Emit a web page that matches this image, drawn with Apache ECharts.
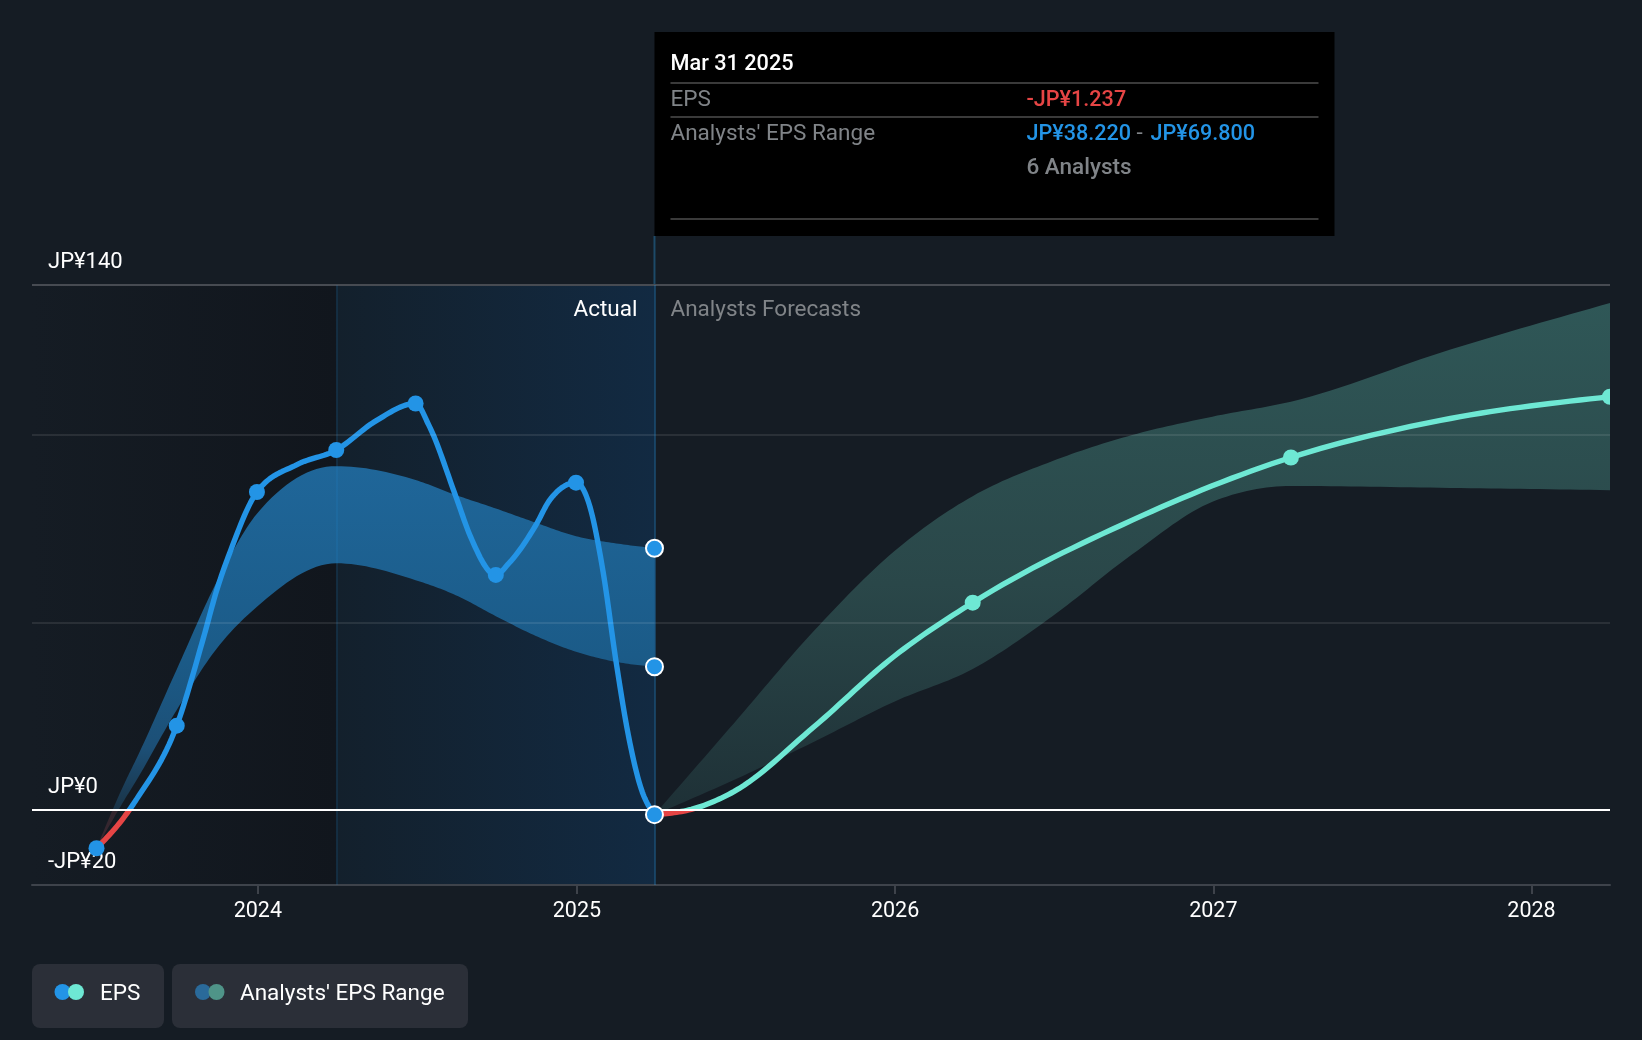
<!DOCTYPE html>
<html><head><meta charset="utf-8">
<style>html,body{margin:0;padding:0;background:#151c24}#c{width:1642px;height:1040px}</style>
<script src="https://cdn.jsdelivr.net/npm/echarts@6/dist/echarts.min.js"></script>
</head><body><div id="c"></div>
<script>
const axisStart='2023-04-17', axisEnd='2028-03-31';
const yearTicks=['2024-01-01','2025-01-01','2026-01-01','2027-01-01','2028-01-01'];
const valueLabels=[-20,0,140];
const gridValues=[100,50];
const topValue=140, zeroValue=0;
const actualSplit='2024-03-31', lastActual='2025-03-31';

const epsDates=['2023-06-30','2023-08-01','2023-08-15','2023-09-30','2023-10-31','2023-11-15','2023-12-01','2023-12-31','2024-02-15','2024-03-31','2024-05-15','2024-06-30','2024-07-15','2024-08-15','2024-09-01','2024-09-30','2024-10-15','2024-11-15','2024-12-01','2024-12-31','2025-01-15','2025-01-31','2025-02-15','2025-03-01','2025-03-15','2025-03-31'];
const epsValues=[-10.2,-1.8,2.9,22.5,46.2,58.7,69.3,84.8,92.1,96,103.7,108.4,102.7,83.7,72.9,62.7,65.8,76,82.7,87.3,81.6,63.6,39.5,20,6.2,-1.237];
const markDates=['2023-06-30','2023-09-30','2023-12-31','2024-03-31','2024-06-30','2024-09-30','2024-12-31'];
const markValues=[-10.2,22.5,84.8,96,108.4,62.7,87.3];

const bandDates=['2023-06-30','2023-08-01','2023-08-15','2023-09-30','2023-11-15','2023-12-31','2024-03-31','2024-06-30','2024-08-15','2024-09-30','2024-11-15','2024-12-31','2025-02-15','2025-03-31'];
const bandHigh=[-10.2,7.1,13.8,37.5,60.9,79,91.7,88,84,80.4,76.6,73,71.1,69.8];
const bandLow=[-10.2,2.7,8,26.7,43.1,54.2,65.8,61.3,57.3,51.7,46.4,42.2,39.5,38.22];

const fcBandDates=['2025-03-31','2025-06-30','2025-09-30','2025-12-31','2026-03-31','2026-06-30','2026-09-30','2026-12-31','2027-03-31','2027-09-30','2028-03-31'];
const fcHigh=[-1.237,23.1,47.8,69,83.7,93,100,104.9,108.9,122.8,135.2];
const fcLow=[-1.237,8,18.2,28.9,37.6,51.6,68.2,82.2,86.4,85.9,85.3];
const fcDates=['2025-03-31','2025-05-15','2025-06-30','2025-09-30','2025-12-31','2026-03-31','2026-09-30','2027-03-31','2027-09-30','2028-03-31'];
const fcValues=[-1.237,0.35,4.9,22.2,41,55.3,77.3,94,104.4,110.2];
const fcMarkDates=['2026-03-31','2027-03-31','2028-03-31'];
const fcMarkValues=[55.3,94,110.2];
const endMarkValues=[69.8,38.22,-1.237];

const FONT='Roboto', BLUE='#2394e6', TEAL='#6ee8d4', RED='#e64545', GREY='#808488';
const ts=s=>Date.parse(s+'T00:00:00Z');
const zip=(d,v)=>d.map((x,i)=>[ts(x),v[i]]);
const grad=(stops,h)=>new echarts.graphic.LinearGradient(0,0,h?1:0,h?0:1,stops.map(([offset,color])=>({offset,color})));
const quiet={symbol:'none',silent:true,label:{show:false},animation:false};
const helper={type:'line',showSymbol:false,symbol:'none',animation:false,silent:true};

// Monotone-x cubic between points already mapped through the axes.
function monotone(pts){
  const n=pts.length, sl=[], t=new Array(n).fill(0);
  for(let i=0;i<n-1;i++) sl.push((pts[i+1][1]-pts[i][1])/(pts[i+1][0]-pts[i][0]));
  for(let i=1;i<n-1;i++){
    const h0=pts[i][0]-pts[i-1][0], h1=pts[i+1][0]-pts[i][0];
    const p=(sl[i-1]*h1+sl[i]*h0)/(h0+h1);
    t[i]=(Math.sign(sl[i-1])+Math.sign(sl[i]))*Math.min(Math.abs(sl[i-1]),Math.abs(sl[i]),0.5*Math.abs(p));
  }
  t[0]=(3*sl[0]-t[1])/2; t[n-1]=(3*sl[n-2]-t[n-2])/2;
  const out=[pts[0]];
  for(let i=0;i<n-1;i++){
    const [x0,y0]=pts[i],[x1,y1]=pts[i+1],dx=(x1-x0)/3;
    const c1=y0+dx*t[i], c2=y1-dx*t[i+1];
    for(let k=1;k<=16;k++){
      const u=k/16,v=1-u;
      out.push([x0+(x1-x0)*u, v*v*v*y0+3*v*v*u*c1+3*v*u*u*c2+u*u*u*y1]);
    }
  }
  return out;
}
const custom={type:'custom',silent:true,animation:false,clip:true,encode:{x:0,y:1}};
function lineSeries(name,dates,values,color){
  return {...custom,name,z:4,data:zip(dates,values),renderItem:(p,api)=>{
    if(p.dataIndex) return null;
    const pts=dates.map((d,i)=>api.coord([ts(d),values[i]]));
    const zy=api.coord([ts(dates[0]),zeroValue])[1];
    const stroke=new echarts.graphic.LinearGradient(0,zy-1,0,zy+1,[{offset:0,color},{offset:.5,color},{offset:.5,color:RED},{offset:1,color:RED}],true);
    return {type:'polyline',shape:{points:monotone(pts)},style:{fill:'none',stroke,lineWidth:5.4,lineJoin:'round',lineCap:'butt'}};
  }};
}
function bandSeries(name,dates,high,low,stops){
  return {...custom,name,z:2,data:zip(dates,high),renderItem:(p,api)=>{
    if(p.dataIndex) return null;
    const up=monotone(dates.map((d,i)=>api.coord([ts(d),high[i]])));
    const dn=monotone(dates.map((d,i)=>api.coord([ts(d),low[i]])));
    return {type:'polygon',shape:{points:up.concat(dn.reverse())},style:{fill:grad(stops)}};
  }};
}
const zeroStop=Math.max(...bandHigh)/(Math.max(...bandHigh)-Math.min(...bandLow));
const chart=echarts.init(document.getElementById('c'),null,{renderer:'canvas'});
const series=[
 {...helper,name:'bg',data:[],z:1,
  markArea:{silent:true,animation:false,data:[
    [{xAxis:ts(axisStart),itemStyle:{color:grad([[0,'#151c24'],[1,'#11161d']],true)}},{xAxis:ts(actualSplit)}],
    [{xAxis:ts(actualSplit),itemStyle:{color:grad([[0,'#13202c'],[1,'#122a42']],true)}},{xAxis:ts(lastActual)}]
  ]}},
 bandSeries("Analysts' EPS Range",bandDates,bandHigh,bandLow,[[0,'#1f6699'],[zeroStop*0.55,'#1b5b88'],[zeroStop*0.82,'#1c4f76'],[zeroStop,'#1a3346'],[zeroStop,'#33262e'],[1,'#3a2730']]),
 bandSeries("Analysts' EPS Range forecast",fcBandDates,fcHigh,fcLow,[[0,'#2f5757'],[0.55,'#2a4749'],[1,'#1e3036']]),
 {...helper,name:'grid',data:[],z:3,markLine:{...quiet,lineStyle:{type:'solid',width:2,color:'rgba(255,255,255,0.09)'},
   data:gridValues.map(v=>({yAxis:v}))}},
 {...helper,name:'top',data:[],z:3,markLine:{...quiet,lineStyle:{type:'solid',width:2,color:'#474b52'},data:[{yAxis:topValue}]}},
 {...helper,name:'split',data:[],z:3,markLine:{...quiet,lineStyle:{type:'solid',width:2,color:'rgba(35,148,230,0.12)'},data:[{xAxis:ts(actualSplit)}]}},
 {...helper,name:'last',data:[],z:3,markLine:{...quiet,lineStyle:{type:'solid',width:2,color:'rgba(35,148,230,0.3)'},data:[{xAxis:ts(lastActual)}]}},
 lineSeries('EPS',epsDates,epsValues,BLUE),
 lineSeries('EPS forecast',fcDates,fcValues,TEAL),
 {...helper,name:'zero',data:[],z:5,markLine:{...quiet,lineStyle:{type:'solid',width:2,color:'#ffffff'},data:[{yAxis:zeroValue}]}},
 {type:'scatter',name:'actual points',data:zip(markDates,markValues),symbolSize:16,itemStyle:{color:BLUE,opacity:1},z:6,silent:true,animation:false},
 {...custom,name:'forecast points',z:6,data:zip(fcMarkDates,fcMarkValues),renderItem:(p,api)=>{
   const [cx,cy]=api.coord([api.value(0),api.value(1)]);
   return {type:'circle',shape:{cx,cy,r:8},style:{fill:TEAL}};
 }},
 {type:'scatter',name:'end points',data:endMarkValues.map(v=>[ts(lastActual),v]),symbolSize:17,itemStyle:{color:BLUE,opacity:1,borderColor:'#fff',borderWidth:2},z:7,silent:true,animation:false},
];
chart.setOption({
 backgroundColor:'#151c24',animation:false,
 grid:{left:32,right:32,top:285,bottom:155,containLabel:false},
 tooltip:{show:false},
 xAxis:{type:'value',min:ts(axisStart),max:ts(axisEnd),scale:true,z:3,
  axisLine:{onZero:false,lineStyle:{color:'#3e434b',width:2}},
  axisTick:{show:true,length:9,lineStyle:{color:'#3e434b',width:2},customValues:yearTicks.map(ts)},
  axisLabel:{color:'#fff',fontFamily:FONT,fontSize:21.5,margin:16,customValues:yearTicks.map(ts),
    formatter:v=>String(new Date(v).getUTCFullYear())},
  splitLine:{show:false}},
 yAxis:{type:'value',min:-20,max:140,z:3,
  axisLine:{show:false},axisTick:{show:false},splitLine:{show:false},
  axisLabel:{inside:true,color:'#fff',fontFamily:FONT,fontSize:22,margin:16,align:'left',verticalAlign:'bottom',padding:[0,0,12,0],
    showMinLabel:true,showMaxLabel:true,hideOverlap:false,customValues:valueLabels,formatter:v=>(v<0?'-':'')+'JP¥'+Math.abs(v)}},
 series
});

const px=chart.convertToPixel({xAxisIndex:0},ts(lastActual));
const topPx=chart.convertToPixel({yAxisIndex:0},topValue);
const gtext=(x,y,text,color,opt={})=>({type:'text',x,y,silent:true,z:20,style:{text,fill:color,font:`${opt.w||400} ${opt.s||22.5}px ${FONT}`,textAlign:opt.a||'left',textVerticalAlign:'middle'}});
const rule=(x1,x2,y,c)=>({type:'line',silent:true,z:20,shape:{x1,y1:y,x2,y2:y},style:{stroke:c,lineWidth:2}});
const L=px+16, V=px+372;
const leg=(x,w,c1,c2,label,dotX,tx)=>[
 {type:'rect',silent:true,z:20,shape:{x,y:964,width:w,height:64,r:8},style:{fill:'#2b2f38'}},
 {type:'circle',silent:true,z:21,shape:{cx:dotX,cy:992,r:8},style:{fill:c1}},
 {type:'circle',silent:true,z:22,shape:{cx:dotX+13.5,cy:992,r:8},style:{fill:c2}},
 gtext(tx,994,label,'#fff',{w:400})
];
chart.setOption({graphic:{elements:[
 {type:'rect',silent:true,z:19,shape:{x:px,y:32,width:680,height:204},style:{fill:'#000'}},
 {type:'line',silent:true,z:3,shape:{x1:px,y1:236,x2:px,y2:topPx},style:{stroke:'#1d4a68',lineWidth:2}},
 gtext(L,64.5,'Mar 31 2025','#fff',{w:500,s:21.7}),
 rule(L,L+648,83,'#3a3a3a'),
 gtext(L,100.5,'EPS',GREY),
 gtext(V,100.5,'-JP¥1.237',RED,{w:500,s:21.6}),
 rule(L,L+648,117,'#3a3a3a'),
 gtext(L,134.5,"Analysts' EPS Range",GREY),
 gtext(V,134.5,'JP¥38.220',BLUE,{w:500,s:21.6}),
 gtext(V+110,134.5,'-',GREY),
 gtext(V+124,134.5,'JP¥69.800',BLUE,{w:500,s:21.6}),
 gtext(V,168.5,'6 Analysts',GREY,{w:500}),
 rule(L,L+648,219,'#3a3a3a'),
 gtext(px-17,310,'Actual','#fff',{a:'right'}),
 gtext(L,310,'Analysts Forecasts',GREY),
 ...leg(32,132,BLUE,TEAL,'EPS',62.5,100),
 ...leg(172,296,'#2a6a9a','#4f9488',"Analysts' EPS Range",203,240)
]}});
</script></body></html>
